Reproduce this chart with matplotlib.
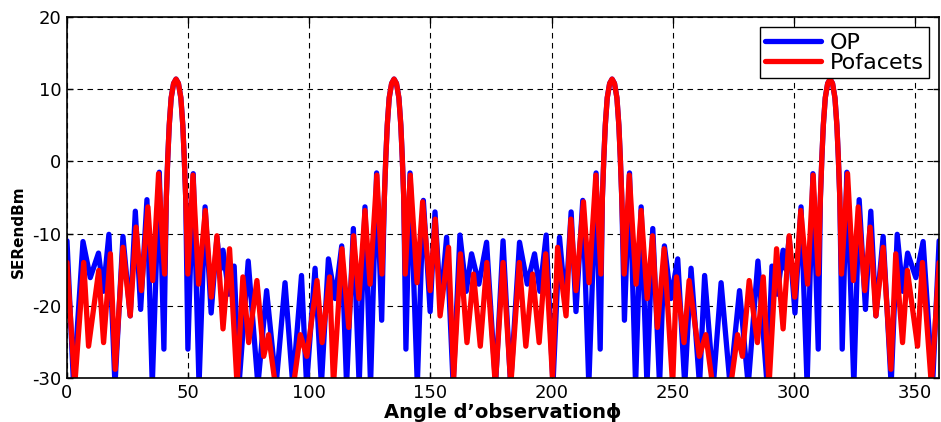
import matplotlib
matplotlib.use("Agg")
import matplotlib.pyplot as plt

plt.rcParams['font.family'] = ['DejaVu Sans']
plt.rcParams['axes.unicode_minus'] = False

# Observation angle (deg) and RCS (dBm) for the physical-optics curve
op_angle = [
    0, 2.7, 6.6, 9.6, 13.0, 15.0, 17.3, 19.8, 23.1, 26.1, 28.2, 30.4, 33.0, 35.2, 38.1, 40.0,
    41.0, 41.6, 42.2, 43.0, 44.0, 45.0, 46.0, 47.0, 47.8, 48.4, 49.0,
    49.9, 52.1, 54.5, 57.0, 59.5, 61.9, 63.2, 64.4, 66.8, 69.0, 71.0, 74.8, 78.8, 82.4, 86.3, 90.0,
    93.2, 96.8, 98.9, 102.4, 105.0, 107.9, 110.7, 113.4, 115.4, 118.2, 120.6, 123.0, 125.3, 127.8, 129.9,
    131.0, 131.6, 132.2, 133.0, 134.0, 135.0, 136.0, 137.0, 137.8, 138.4, 139.0,
    139.9, 141.6, 144.6, 147.1, 149.9, 151.9, 154.2, 156.7, 159.4, 162.2, 164.8, 167.0, 170.0, 173.2, 176.9, 180.0,
    183.1, 186.8, 190.0, 193.0, 195.2, 197.8, 200.6, 203.3, 205.8, 208.1, 210.1, 212.9, 215.4, 218.4, 220.1,
    221.0, 221.6, 222.2, 223.0, 224.0, 225.0, 226.0, 227.0, 227.8, 228.4, 229.0,
    230.1, 232.2, 234.7, 237.0, 239.4, 241.8, 244.6, 246.6, 249.3, 252.1, 255.0, 257.6, 261.1, 263.2, 266.8, 270.0,
    273.7, 277.6, 281.2, 285.2, 289.0, 291.0, 293.2, 295.6, 296.8, 298.1, 300.5, 303.0, 305.5, 307.9, 310.1,
    311.0, 311.6, 312.2, 313.0, 314.0, 315.0, 316.0, 317.0, 317.8, 318.4, 319.0,
    320.0, 321.9, 324.8, 327.0, 329.6, 331.8, 333.9, 336.9, 340.2, 342.7, 345.0, 347.0, 350.4, 353.4, 357.3, 360.0,
]
op_db = [
    -11, -31, -11.1, -16.1, -12.7, -18, -10.1, -31, -10.4, -21.4, -6.9, -20.5, -5.3, -31, -1.5, -26,
    -5, 0.5, 5, 8.8, 10.8, 11.4, 10.8, 8.8, 5, 0.5, -5,
    -26, -1.7, -31, -6.3, -21, -10.5, -15, -12.3, -18.4, -14.5, -31, -13.8, -31, -17.9, -31, -16.8,
    -31, -15.8, -31, -14.8, -31, -13.5, -19, -11.7, -31, -9.3, -31, -6.3, -31, -1.6, -22,
    -5, 0.5, 5, 8.8, 10.8, 11.4, 10.8, 8.8, 5, 0.5, -5,
    -26, -1.6, -31, -5.4, -20.8, -7.0, -20, -10.5, -31, -10.2, -18, -12.8, -17, -11.2, -31, -11,
    -31, -11.2, -17, -12.8, -18, -10.2, -31, -10.5, -20, -7.0, -20.8, -5.4, -31, -1.6, -26,
    -5, 0.5, 5, 8.8, 10.8, 11.4, 10.8, 8.8, 5, 0.5, -5,
    -22, -1.6, -31, -6.3, -31, -9.3, -31, -11.7, -19, -13.5, -31, -14.8, -31, -15.8, -31, -16.8,
    -31, -17.9, -31, -13.8, -31, -14.5, -18.4, -12.3, -15, -10.5, -21, -6.3, -31, -1.7, -26,
    -5, 0.5, 5, 8.8, 10.8, 11.4, 10.8, 8.8, 5, 0.5, -5,
    -26, -1.5, -31, -5.3, -20.5, -6.9, -21.4, -10.4, -31, -10.1, -18, -12.7, -16.1, -11.1, -31, -11,
]

# Same quantity computed with POFACETS
pof_angle = [
    0, 3.2, 6.9, 8.9, 13.1, 15.1, 17.9, 19.9, 23.1, 26.1, 28.5, 30.7, 33.4, 35.4, 37.8, 40.3,
    41.0, 41.6, 42.2, 43.0, 44.0, 45.0, 46.0, 47.0, 47.8, 48.4, 49.0,
    49.9, 52.0, 54.3, 57.1, 59.6, 61.9, 64.4, 67.1, 70.2, 72.6, 75.0, 78.4, 81.2, 83.2, 86.0, 90.0,
    93.5, 96.3, 99.0, 103.2, 105.3, 108.4, 110.0, 113.5, 116.3, 118.3, 120.5, 123.0, 125.1, 127.9, 130.0,
    131.0, 131.6, 132.2, 133.0, 134.0, 135.0, 136.0, 137.0, 137.8, 138.4, 139.0,
    139.6, 141.7, 144.5, 146.8, 149.9, 152.0, 154.0, 157.5, 159.6, 162.4, 165.1, 167.8, 170.6, 173.3, 176.8, 180.0,
    183.2, 186.7, 189.4, 192.2, 194.9, 197.6, 200.4, 202.5, 206.0, 208.0, 210.1, 213.2, 215.5, 218.3, 220.4,
    221.0, 221.6, 222.2, 223.0, 224.0, 225.0, 226.0, 227.0, 227.8, 228.4, 229.0,
    230.0, 232.1, 234.9, 237.0, 239.5, 241.7, 243.7, 246.5, 250.0, 251.6, 254.7, 256.8, 261.0, 263.7, 266.5, 270.0,
    274.0, 276.8, 278.8, 281.6, 285.0, 287.4, 289.8, 292.9, 295.6, 298.1, 300.4, 302.9, 305.7, 308.0, 310.1,
    311.0, 311.6, 312.2, 313.0, 314.0, 315.0, 316.0, 317.0, 317.8, 318.4, 319.0,
    319.7, 322.2, 324.6, 326.6, 329.3, 331.5, 333.9, 336.9, 340.1, 342.1, 344.9, 346.9, 351.1, 353.1, 356.8, 360.0,
]
pof_db = [
    -14, -31, -14, -25.6, -15.1, -25.1, -12.8, -28.8, -11.9, -21.4, -9.1, -17.9, -6.3, -16.5, -1.7, -15.6,
    -5, 0.5, 5, 8.8, 10.8, 11.4, 10.8, 8.8, 5, 0.5, -5,
    -15.6, -1.9, -17, -6.8, -18.8, -10.3, -23.2, -12.1, -31, -16, -25.1, -16.5, -27, -24, -31, -40,
    -31, -24, -27, -16.5, -25.1, -16, -31, -12.1, -23, -10.3, -19, -6.8, -17, -1.9, -15.6,
    -5, 0.5, 5, 8.8, 10.8, 11.4, 10.8, 8.8, 5, 0.5, -5,
    -15.6, -1.9, -16.8, -5.6, -17.9, -8, -21.4, -11.9, -30, -12.8, -25.1, -15.6, -25.6, -14, -31, -14,
    -31, -14, -25.6, -15.6, -25.1, -12.8, -30, -11.9, -21.4, -8, -17.9, -5.6, -16.8, -1.9, -15.6,
    -5, 0.5, 5, 8.8, 10.8, 11.4, 10.8, 8.8, 5, 0.5, -5,
    -15.6, -1.9, -17, -6.8, -19, -10.3, -23, -12.1, -31, -16, -25.1, -16.5, -27, -24, -31, -40,
    -31, -24, -27, -16.5, -25.1, -16, -31, -12.1, -23.2, -10.3, -18.8, -6.8, -17, -1.9, -15.6,
    -5, 0.5, 5, 8.8, 10.8, 11.4, 10.8, 8.8, 5, 0.5, -5,
    -15.6, -1.7, -16.5, -6.3, -17.9, -9.1, -21.4, -11.9, -28.8, -12.8, -25.1, -15.1, -25.6, -14, -31, -14,
]

x_ticks = [0, 50, 100, 150, 200, 250, 300, 350]
y_ticks = [-30, -20, -10, 0, 10, 20]

fig = plt.figure(figsize=(9.41, 4.22), dpi=100)
ax = fig.add_axes([0.0712, 0.1043, 0.9268, 0.8554])

ax.plot(op_angle, op_db, color='#0000ff', lw=3.8, label='OP',
        solid_joinstyle='round', solid_capstyle='round')
ax.plot(pof_angle, pof_db, color='#ff0000', lw=3.8, label='Pofacets',
        solid_joinstyle='round', solid_capstyle='round')

ax.set_xlim(0, 360)
ax.set_ylim(-30, 20)
ax.set_xticks(x_ticks)
ax.set_yticks(y_ticks)
ax.tick_params(direction='in', length=4, width=1, labelsize=13, top=True, right=True, pad=4)
ax.grid(True, color='k', linestyle=(0, (5, 4)), linewidth=0.8)
for sp in ax.spines.values():
    sp.set_linewidth(1.2)

ax.set_xlabel("Angle d\u2019observation\u03d5", fontsize=14, fontweight='bold', labelpad=1)
ax.set_ylabel("SERendBm", fontsize=11, fontweight='bold')
ax.yaxis.set_label_coords(-0.047, 0.405)

leg = ax.legend(loc='upper right', fontsize=16, frameon=True, fancybox=False,
                borderpad=0.25, handlelength=2.5, handletextpad=0.4, labelspacing=0.0,
                borderaxespad=0.45)
leg.get_frame().set_edgecolor('k')
leg.get_frame().set_linewidth(1.0)
leg.get_frame().set_alpha(1)

fig.savefig("out.png", dpi=100)
